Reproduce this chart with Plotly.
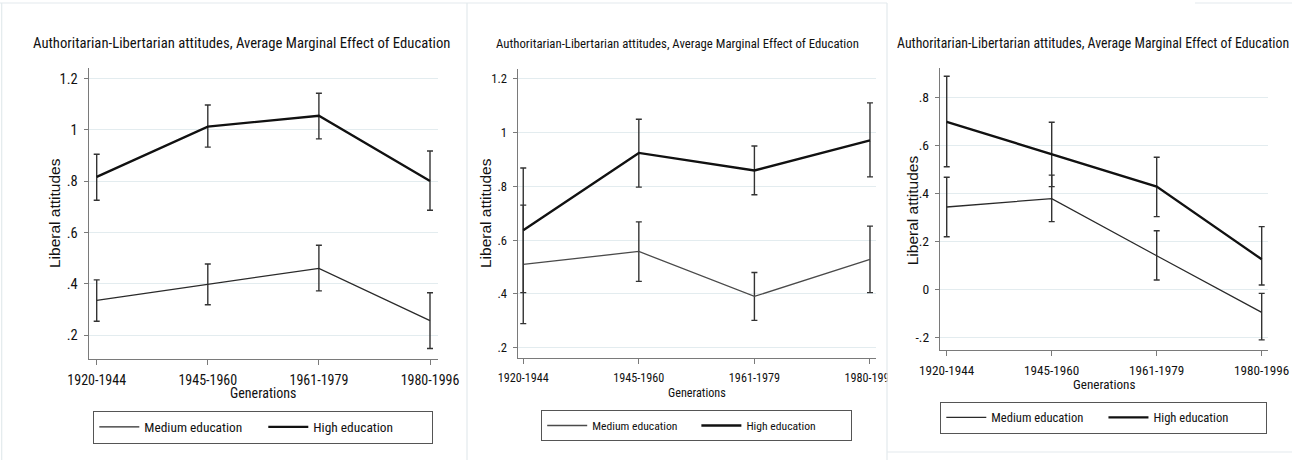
import plotly.graph_objects as go

# ---------------- data ----------------
categories = ["1920-1944", "1945-1960", "1961-1979", "1980-1996"]
series_names = ["Medium education", "High education"]

p1_medium = [0.336, 0.399, 0.461, 0.257]
p1_medium_lo = [0.255, 0.319, 0.373, 0.149]
p1_medium_hi = [0.416, 0.478, 0.551, 0.366]
p1_high = [0.817, 1.013, 1.055, 0.801]
p1_high_lo = [0.726, 0.933, 0.965, 0.687]
p1_high_hi = [0.905, 1.097, 1.143, 0.918]

p2_medium = [0.510, 0.558, 0.391, 0.529]
p2_medium_lo = [0.290, 0.447, 0.302, 0.405]
p2_medium_hi = [0.730, 0.668, 0.480, 0.652]
p2_high = [0.637, 0.924, 0.859, 0.971]
p2_high_lo = [0.405, 0.797, 0.769, 0.835]
p2_high_hi = [0.868, 1.049, 0.950, 1.110]

p3_medium = [0.343, 0.378, 0.140, -0.096]
p3_medium_lo = [0.219, 0.282, 0.039, -0.211]
p3_medium_hi = [0.467, 0.476, 0.244, -0.017]
p3_high = [0.698, 0.5625, 0.428, 0.125]
p3_high_lo = [0.511, 0.428, 0.303, 0.018]
p3_high_hi = [0.888, 0.696, 0.550, 0.261]

y_ticks_12 = [0.2, 0.4, 0.6, 0.8, 1.0, 1.2]
y_ticktext_12 = [".2", ".4", ".6", ".8", "1", "1.2"]
y_ticks_3 = [-0.2, 0.0, 0.2, 0.4, 0.6, 0.8]
y_ticktext_3 = ["-.2", "0", ".2", ".4", ".6", ".8"]

title_text = "Authoritarian-Libertarian attitudes, Average Marginal Effect of Education"
ytitle_text = "Liberal attitudes"
xtitle_text = "Generations"

# ---------------- layout helpers ----------------
W, H = 1292, 460
def px(x):
    return x / W
def py(y):
    return 1 - y / H

FN = "Roboto Condensed, Roboto, Liberation Sans, sans-serif"
FR = "Liberation Sans, Arial, sans-serif"

def nfont(size, family=FN, color="#111"):
    return dict(family=family, size=size, color=color)

GRID = "#e3ecef"
AXIS = "#7a7a7a"

panels = [
    dict(med=(p1_medium, p1_medium_lo, p1_medium_hi), high=(p1_high, p1_high_lo, p1_high_hi),
         yt=(y_ticks_12, y_ticktext_12), xdom=(88.7, 438), ydom=(68.3, 358.7), yr=(0.109, 1.24),
         xr=(-0.072, 3.072), s=1.0, title=(241.7, 43), ytit=(54, 213), xtit=(263, 393),
         leg=(263.3, 410.7), medc="#2a2a2a"),
    dict(med=(p2_medium, p2_medium_lo, p2_medium_hi), high=(p2_high, p2_high_lo, p2_high_hi),
         yt=(y_ticks_12, y_ticktext_12), xdom=(517.7, 876), ydom=(69, 358.3), yr=(0.161, 1.236),
         xr=(-0.048, 3.052), s=0.87, title=(677.5, 43), ytit=(485, 213), xtit=(696.7, 392.7),
         leg=(696.7, 410), medc="#4a4a4a"),
    dict(med=(p3_medium, p3_medium_lo, p3_medium_hi), high=(p3_high, p3_high_lo, p3_high_hi),
         yt=(y_ticks_3, y_ticktext_3), xdom=(940, 1268.3), ydom=(68.3, 350), yr=(-0.253, 0.921),
         xr=(-0.064, 3.063), s=0.94, title=(1092.5, 43), ytit=(912.3, 210), xtit=(1104, 384),
         leg=(1103.8, 401.7), medc="#2a2a2a"),
]

fig = go.Figure()
annotations = []
layout = dict(template="none", width=W, height=H, margin=dict(l=0, r=0, t=0, b=0, pad=0),
              autosize=False, paper_bgcolor="white", plot_bgcolor="white", showlegend=True)

for i, p in enumerate(panels):
    k = "" if i == 0 else str(i + 1)
    xa, ya = "x" + k, "y" + k
    legname = "legend" + k
    s = p["s"]
    for name, key, color, width in [(series_names[0], "med", p["medc"], 1.3),
                                    (series_names[1], "high", "#111111", 2.3)]:
        v, lo, hi = p[key]
        fig.add_trace(go.Scatter(
            x=categories, y=v, mode="lines", name=name,
            line=dict(color=color, width=width),
            error_y=dict(type="data", symmetric=False,
                         array=[h - m for h, m in zip(hi, v)],
                         arrayminus=[m - l for m, l in zip(v, lo)],
                         color="#333333", thickness=1.4, width=3),
            xaxis=xa, yaxis=ya, legend=legname, hoverinfo="skip"))

    layout["xaxis" + k] = dict(
        domain=[px(p["xdom"][0]), px(p["xdom"][1])], anchor=ya, automargin=False,
        type="category", range=list(p["xr"]), showgrid=False, zeroline=False,
        showline=True, linecolor=AXIS, linewidth=1.3,
        ticks="outside", ticklen=5, tickcolor=AXIS, tickwidth=1.2,
        tickfont=nfont(14 * s), ticklabelstandoff=3)
    layout["yaxis" + k] = dict(
        domain=[py(p["ydom"][1]), py(p["ydom"][0])], anchor=xa, automargin=False,
        range=list(p["yr"]), tickvals=p["yt"][0], ticktext=p["yt"][1],
        showgrid=True, gridcolor=GRID, gridwidth=1.2, zeroline=False,
        showline=True, linecolor=AXIS, linewidth=1.3,
        ticks="outside", ticklen=4, tickcolor=AXIS, tickwidth=1.2,
        tickfont=nfont(14.5 * s), ticklabelstandoff=3)
    layout[legname] = dict(
        orientation="h", x=px(p["leg"][0]), xanchor="center",
        y=py(p["leg"][1]), yanchor="top",
        bordercolor="#555", borderwidth=1, bgcolor="white",
        font=nfont(13.4 * s), itemwidth=40, tracegroupgap=0,
        entrywidth=114 * s, entrywidthmode="pixels")
    annotations.append(dict(text=title_text, x=px(p["title"][0]), y=py(p["title"][1]),
                            xref="paper", yref="paper", showarrow=False,
                            xanchor="center", yanchor="middle", font=nfont(14.7 * s)))
    annotations.append(dict(text=ytitle_text, x=px(p["ytit"][0]), y=py(p["ytit"][1]),
                            xref="paper", yref="paper", showarrow=False, textangle=-90,
                            xanchor="center", yanchor="middle",
                            font=dict(family=FR, size=15.5, color="#111")))
    annotations.append(dict(text=xtitle_text, x=px(p["xtit"][0]), y=py(p["xtit"][1]),
                            xref="paper", yref="paper", showarrow=False,
                            xanchor="center", yanchor="middle", font=nfont(14 * s)))

BORDER = "#e3eaed"
shapes = [
    # mask for clipped tick label of panel 2
    dict(type="rect", xref="paper", yref="paper", x0=px(887.5), x1=px(905), y0=py(392), y1=py(362),
         fillcolor="white", line=dict(width=0), layer="above"),
    dict(type="line", xref="paper", yref="paper", x0=px(0), x1=px(887), y0=py(3), y1=py(3),
         line=dict(color=BORDER, width=1.2), layer="above"),
    dict(type="line", xref="paper", yref="paper", x0=px(1.7), x1=px(1.7), y0=py(3), y1=py(460),
         line=dict(color=BORDER, width=1.2), layer="above"),
    dict(type="line", xref="paper", yref="paper", x0=px(467), x1=px(467), y0=py(3), y1=py(460),
         line=dict(color=BORDER, width=1.2), layer="above"),
    dict(type="line", xref="paper", yref="paper", x0=px(887), x1=px(887), y0=py(3), y1=py(460),
         line=dict(color=BORDER, width=1.2), layer="above"),
    dict(type="line", xref="paper", yref="paper", x0=px(887), x1=px(1292), y0=py(452), y1=py(452),
         line=dict(color=BORDER, width=1.2), layer="above"),
    dict(type="line", xref="paper", yref="paper", x0=px(1195), x1=px(1292), y0=py(3), y1=py(3),
         line=dict(color=BORDER, width=1.2), layer="above"),
]
layout["annotations"] = annotations
layout["shapes"] = shapes
fig.update_layout(**layout)
fig.write_html("out.html", config={"displayModeBar": False},
               post_script="document.body.style.margin='0px';")
